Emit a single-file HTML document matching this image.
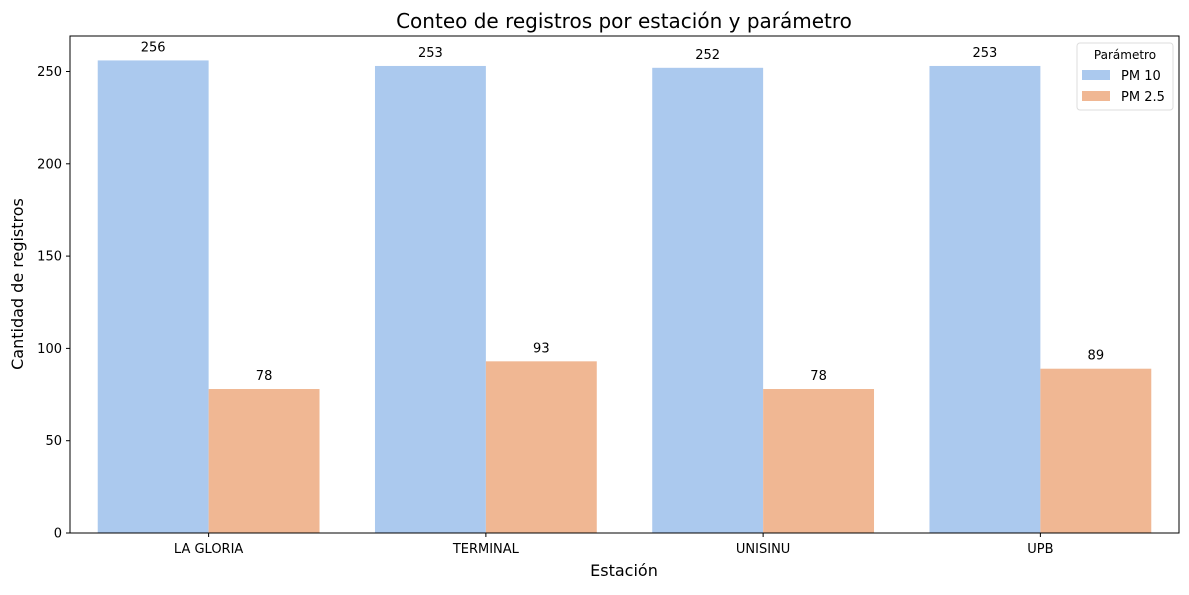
<!DOCTYPE html>
<html><head><meta charset="utf-8"><style>
body{margin:0;background:#fff;}
svg text{font-family:"DejaVu Sans","Liberation Sans",sans-serif;}
</style></head><body>
<svg id="chart" width="1189" height="590" xmlns="http://www.w3.org/2000/svg">
<rect width="1189" height="590" fill="#fff"/>
<text x="624" y="28" font-size="20" text-anchor="middle">Conteo de registros por estación y parámetro</text>
<g id="bars"></g>
<g id="axes"></g>
<text x="624" y="576" font-size="16" text-anchor="middle">Estación</text>
<text transform="translate(23,284) rotate(-90)" font-size="16" text-anchor="middle">Cantidad de registros</text>
<g>
<rect x="1077" y="43" width="96" height="67" fill="#fff" stroke="#ddd" rx="3"/>
<text x="1125" y="59" font-size="12" text-anchor="middle">Parámetro</text>
<rect x="1082" y="70" width="28" height="10" fill="#abc9ee"/>
<text x="1121" y="80" font-size="13">PM 10</text>
<rect x="1082" y="91" width="28" height="10" fill="#f0b793"/>
<text x="1121" y="101" font-size="13">PM 2.5</text>
</g>
</svg>
<script>
const categories=["LA GLORIA","TERMINAL","UNISINU","UPB"];
const pm10=[256,253,252,253];
const pm25=[78,93,78,89];
const yTicks=[0,50,100,150,200,250];
const ns="http://www.w3.org/2000/svg";
const L=70,R=1179,T=36,B=533;
const xs=i=>L+(i+0.5)*(R-L)/categories.length;
const ys=v=>B-v*(B-71.5)/250;
const bw=(R-L)/categories.length*0.4;
const bars=document.getElementById('bars'),axes=document.getElementById('axes');
function mk(tag,attrs,parent){const e=document.createElementNS(ns,tag);for(const k in attrs)e.setAttribute(k,attrs[k]);parent.appendChild(e);return e;}
[[pm10,'#abc9ee',-1,'pm10'],[pm25,'#f0b793',0,'pm25']].forEach(([arr,col,off,nm])=>{
 arr.forEach((v,i)=>{
  const x=xs(i)+off*bw;
  const r=mk('rect',{x:x,y:ys(v),width:bw,height:B-ys(v),fill:col},bars);
  
  
  const t=mk('text',{x:x+bw/2,y:ys(v)-9,'font-size':13,'text-anchor':'middle'},bars);
  t.textContent=v;
  
  
 });
});
const fr=mk('rect',{x:L,y:T,width:R-L,height:B-T,fill:'none',stroke:'#000','stroke-width':1},axes);


yTicks.forEach(v=>{
 mk('line',{x1:L-4,x2:L,y1:ys(v),y2:ys(v),stroke:'#000'},axes);
 const t=mk('text',{x:L-8,y:ys(v)+4.5,'font-size':13,'text-anchor':'end'},axes);
 t.textContent=v;
 
 
});
categories.forEach((c,i)=>{
 mk('line',{x1:xs(i),x2:xs(i),y1:B,y2:B+4,stroke:'#000'},axes);
 const t=mk('text',{x:xs(i),y:B+20,'font-size':13,'text-anchor':'middle'},axes);
 t.textContent=c;
 
 
});
</script>
</body></html>
